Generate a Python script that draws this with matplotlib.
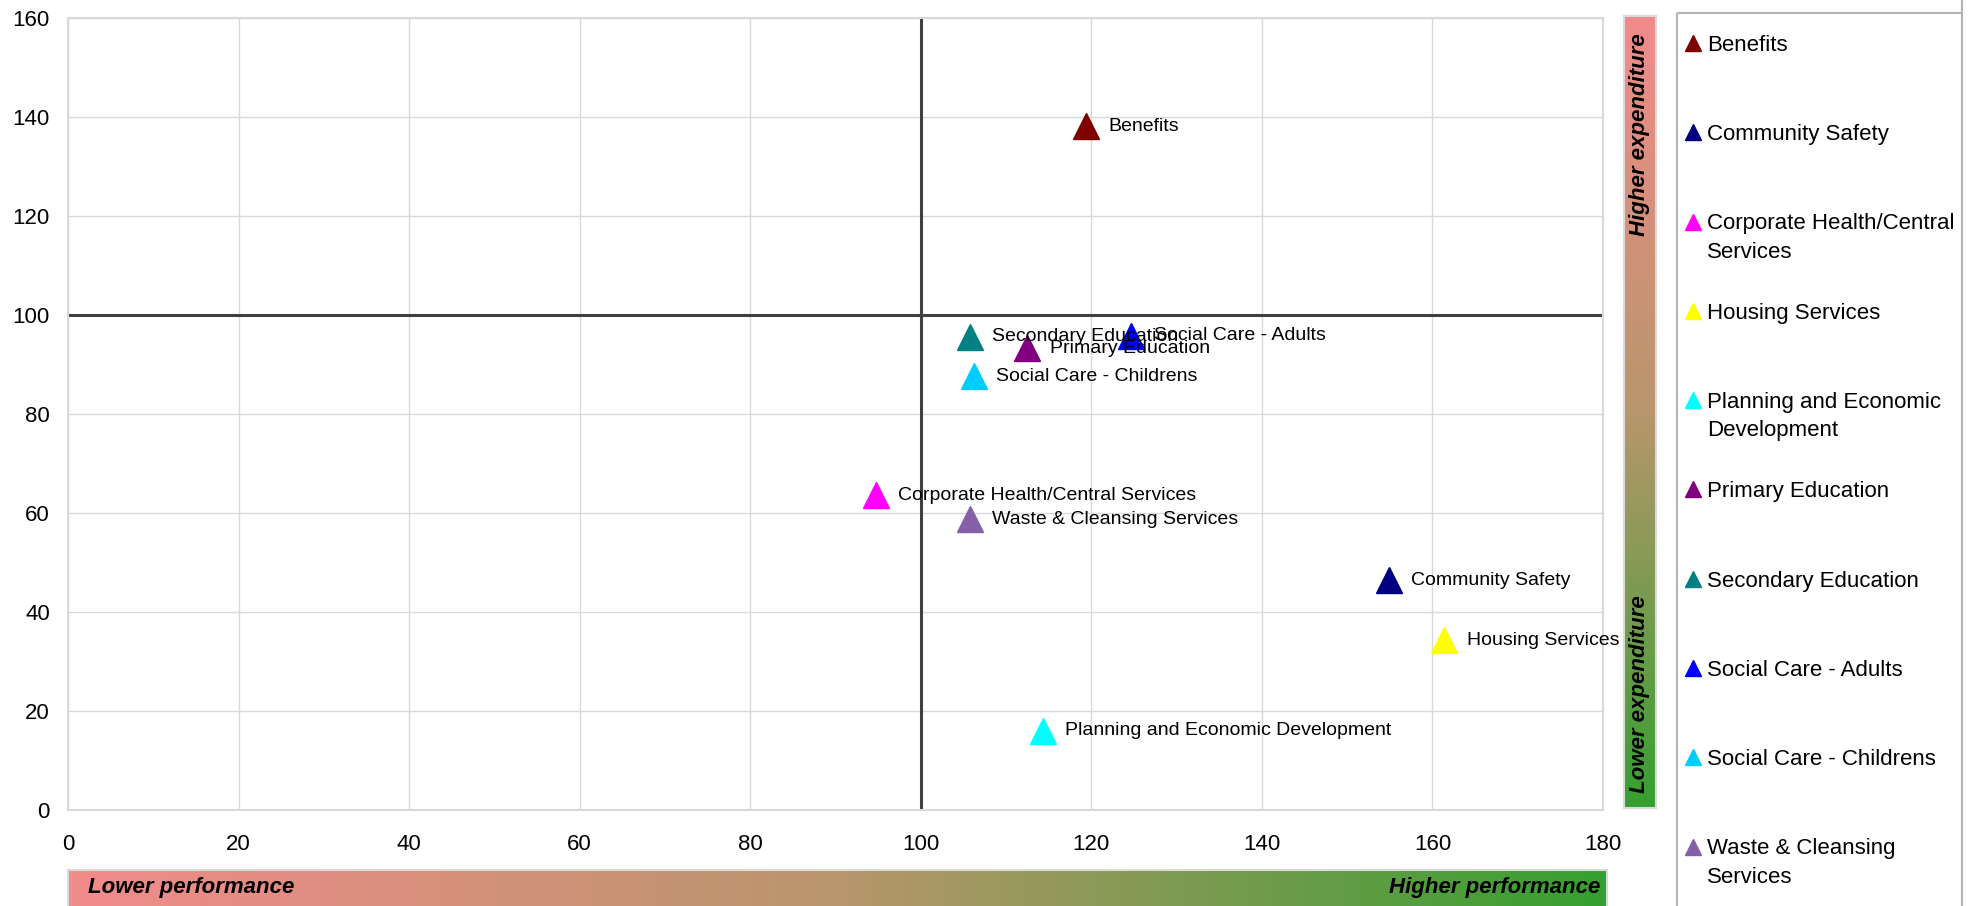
"""Quadrant chart: performance vs expenditure by service."""

import matplotlib
matplotlib.use("Agg")
import matplotlib.pyplot as plt
import numpy as np
from matplotlib.colors import LinearSegmentedColormap
from matplotlib.patches import Rectangle
from matplotlib.lines import Line2D

plt.rcParams["font.family"] = ["Liberation Sans", "DejaVu Sans"]

services = [
    "Benefits",
    "Community Safety",
    "Corporate Health/Central Services",
    "Housing Services",
    "Planning and Economic Development",
    "Primary Education",
    "Secondary Education",
    "Social Care - Adults",
    "Social Care - Childrens",
    "Waste & Cleansing Services",
]
legend_labels = [
    "Benefits",
    "Community Safety",
    "Corporate Health/Central\nServices",
    "Housing Services",
    "Planning and Economic\nDevelopment",
    "Primary Education",
    "Secondary Education",
    "Social Care - Adults",
    "Social Care - Childrens",
    "Waste & Cleansing\nServices",
]
performance = [119.4, 154.9, 94.7, 161.4, 114.3, 112.5, 105.8, 124.7, 106.2, 105.8]
expenditure = [138.1, 46.4, 63.6, 34.3, 16.0, 93.3, 95.6, 95.8, 87.6, 58.7]
colors = ["#800000", "#000080", "#FF00FF", "#FFFF00", "#00FFFF",
          "#800080", "#008080", "#0000FF", "#00CCFF", "#8560A8"]

x_ticks = list(range(0, 181, 20))
y_ticks = list(range(0, 161, 20))

W, H = 1984, 906
fig = plt.figure(figsize=(W / 100, H / 100), dpi=100)


def fig_rect(x0, y0, x1, y1):
    """Pixel box (top-left origin) -> figure fraction rect."""
    return [x0 / W, 1 - y1 / H, (x1 - x0) / W, (y1 - y0) / H]


ax = fig.add_axes(fig_rect(68, 18, 1603, 810))
ax.set_xlim(0, 180)
ax.set_ylim(0, 160)
ax.set_xticks(x_ticks)
ax.set_yticks(y_ticks)
ax.tick_params(length=0, labelsize=16)
ax.tick_params(axis="x", pad=17)
ax.tick_params(axis="y", pad=13)
ax.grid(True, color="#d9d9d9", lw=1.0)
ax.set_axisbelow(True)
for sp in ax.spines.values():
    sp.set_color("#d9d9d9")
    sp.set_linewidth(1.5)

ax.axvline(100, color="#404040", lw=2.2, zorder=2)
ax.axhline(100, color="#404040", lw=2.2, zorder=2)

for name, xv, yv, c in zip(services, performance, expenditure, colors):
    ax.plot(xv, yv, marker="^", ms=19, color=c, ls="none", zorder=3)
    ax.annotate(name, (xv, yv), xytext=(16, 0), textcoords="offset points",
                fontsize=14, va="center", ha="left", zorder=4,
                annotation_clip=False)

# gradient bars
grad_cmap = LinearSegmentedColormap.from_list(
    "perf", [(0.0, "#F28B8B"), (0.5, "#B8966C"), (1.0, "#35A030")])
grad = np.linspace(0, 1, 256)

vbar = fig.add_axes(fig_rect(1624, 16, 1656, 808))
vbar.imshow(grad[::-1, None], cmap=grad_cmap.reversed(), aspect="auto",
            extent=(0, 1, 0, 1))
vbar.set_xlim(0, 1)
vbar.set_ylim(0, 1)
vbar.set_xticks([])
vbar.set_yticks([])
for sp in vbar.spines.values():
    sp.set_color("#d9d9d9")
    sp.set_linewidth(1.5)
vbar.text(0.5, 0.978, "Higher expenditure", rotation=90, ha="center", va="top",
          fontsize=16, fontweight="bold", fontstyle="italic")
vbar.text(0.5, 0.019, "Lower expenditure", rotation=90, ha="center", va="bottom",
          fontsize=16, fontweight="bold", fontstyle="italic")

hbar = fig.add_axes(fig_rect(68, 870, 1607, 908))
hbar.imshow(grad[None, :], cmap=grad_cmap, aspect="auto", extent=(0, 1, 0, 1))
hbar.set_xlim(0, 1)
hbar.set_ylim(0, 1)
hbar.set_xticks([])
hbar.set_yticks([])
for sp in hbar.spines.values():
    sp.set_color("#d9d9d9")
    sp.set_linewidth(1.5)
hbar.text(0.013, 0.55, "Lower performance", ha="left", va="center",
          fontsize=16, fontweight="bold", fontstyle="italic")
hbar.text(0.9955, 0.55, "Higher performance", ha="right", va="center",
          fontsize=16, fontweight="bold", fontstyle="italic")

# legend panel
leg = fig.add_axes(fig_rect(1677, 13, 1962, 906))
leg.set_xlim(1677, 1962)
leg.set_ylim(906, 13)
leg.axis("off")
leg.add_patch(Rectangle((1677, 13), 285, 950, fill=False, ec="#b4b4b4",
                        lw=1.5, clip_on=False))
leg.add_line(Line2D([1962, 1962], [0, 13], color="#b4b4b4", lw=1.5,
                    clip_on=False))
for i, (lab, c) in enumerate(zip(legend_labels, colors)):
    yc = 43 + 89.3 * i
    n_extra = lab.count("\n")
    leg.plot(1693, yc, marker="^", ms=12, color=c, ls="none")
    # baseline of a multi-line text sits on its last line
    leg.text(1707, yc + 8 + 28 * n_extra, lab, fontsize=16, ha="left",
             va="baseline", linespacing=1.45)

fig.savefig("out.png", dpi=100)
